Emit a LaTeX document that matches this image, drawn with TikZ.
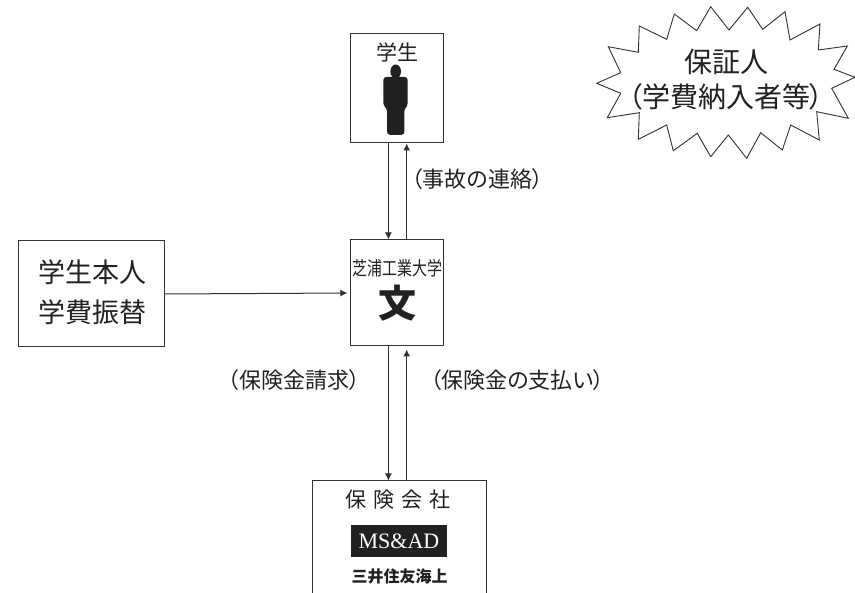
\documentclass[tikz,border=0pt]{standalone}
\usepackage{fontspec}
\usepackage{graphicx}
\usepackage{xcolor}
\usetikzlibrary{arrows.meta, positioning, calc}
\setmainfont{Liberation Serif}
\newfontfamily\jp[RawFeature=+palt]{Noto Sans CJK JP}
\definecolor{inkBlack}{RGB}{35, 32, 32}
\definecolor{lineGray}{RGB}{50, 50, 50}

\begin{document}
\begin{tikzpicture}[x=1pt, y=-1pt]
        \tikzstyle{box} = [rectangle, draw=lineGray, line width=1pt, inner sep=0pt, fill=white]
        \tikzstyle{arrow} = [-{Latex[length=7pt,width=7pt]}, line width=1pt, lineGray]
        \tikzstyle{txt} = [inner sep=0pt, text=inkBlack, font=\jp, align=center]
        \clip (0,0) rectangle (855,593);

        % Boxes
        \node[box, minimum width=93pt, minimum height=109pt] (student) at (397.4,88.5) {};
        \node[box, minimum width=93pt, minimum height=106pt] (school) at (397.4,293) {};
        \node[box, minimum width=146pt, minimum height=106pt] (direct) at (91,294) {};
        \node[box, minimum width=174pt, minimum height=160pt] (insurer) at (399,561) {};

        % Student
        \node[txt, font=\jp\fontsize{21}{21}\selectfont] (studentlabel) at (397,52.5) {学生};
        \fill[inkBlack] (395.7,71.5) ellipse (5.3 and 7);
        \fill[inkBlack, rounded corners=3pt] (383.3,77) -- (407.7,77) -- (407.7,106) -- (404.4,108) -- (404.4,134.8) -- (387,134.8) -- (387,108) -- (383.3,106) -- cycle;

        % School
        \node[txt] (schoolname) at (397.5,268) {\fontsize{19}{19}\selectfont\scalebox{0.79}[1]{芝浦工業大学}};
        \node[txt, font=\jp\bfseries\fontsize{38}{38}\selectfont] (schoolmark) at (397.5,303) {文};

        % Direct debit
        \node[txt, font=\jp\fontsize{27}{40}\selectfont] (directlabel) at (92,292) {学生本人\\学費振替};

        % Insurer
        \node[txt, font=\jp\fontsize{21}{21}\selectfont] (insurerlabel) at (398,500) {保\hspace{7pt}険\hspace{7pt}会\hspace{7pt}社};
        \node[inner sep=0pt, fill=inkBlack, text=white, minimum width=96pt, minimum height=32pt, font=\fontsize{22}{22}\selectfont] (logo) at (399,541) {MS\&AD};
        \node[txt, font=\jp\bfseries\fontsize{16}{16}\selectfont] (insurername) at (399.5,576) {三井住友海上};

        % Guarantor
        \draw[lineGray, line width=0.9pt, fill=white] (596.7,83.3) -- (620.7,72.7) -- (608.3,46.7) -- (638.3,52.3) -- (639.3,26) -- (666.7,39.3) -- (674.3,14) -- (696.7,30.7) -- (710.7,6.7) -- (729,30) -- (747.7,7.3) -- (762.7,29.3) -- (785,11.7) -- (790,40) -- (820,24) -- (818.3,50) -- (847.3,46) -- (834,69.3) -- (855,77.3) -- (831.7,88.3) -- (848.3,118.3) -- (816.7,111.7) -- (819.3,140) -- (790.7,125) -- (782.3,150) -- (760.7,132.7) -- (746.7,158.3) -- (728.3,135) -- (710.7,156.7) -- (697.3,133.3) -- (673.3,150.7) -- (666.7,125) -- (638.3,139.3) -- (639.3,112.7) -- (607.3,117.7) -- (620.7,93.3) -- cycle;
        \node[txt, font=\jp\fontsize{28}{35}\selectfont] (guarantor) at (726,80) {保証人\\（学費納入者等）};

        % Labels
        \node[txt, font=\jp\fontsize{22}{22}\selectfont] (accident) at (477.5,179) {（事故の連絡）};
        \node[txt, font=\jp\fontsize{22}{22}\selectfont] (claim) at (294,380) {（保険金請求）};
        \node[txt, font=\jp\fontsize{22}{22}\selectfont] (payment) at (517.5,380) {（保険金の支払い）};

        \draw[arrow] ([xshift=-9pt]student.south) -- ([xshift=-9pt]school.north);
        \draw[arrow] ([xshift=9.3pt]school.north) -- ([xshift=9.3pt]student.south);
        \draw[arrow, shorten >=3pt] (direct.east) -- (school.west);
        \draw[arrow] ([xshift=-9pt]school.south) -- ([xshift=-9pt]school.south |- insurer.north);
        \draw[arrow, shorten >=3pt] ([xshift=9.3pt]school.south |- insurer.north) -- ([xshift=9.3pt]school.south);
\end{tikzpicture}
\end{document}
